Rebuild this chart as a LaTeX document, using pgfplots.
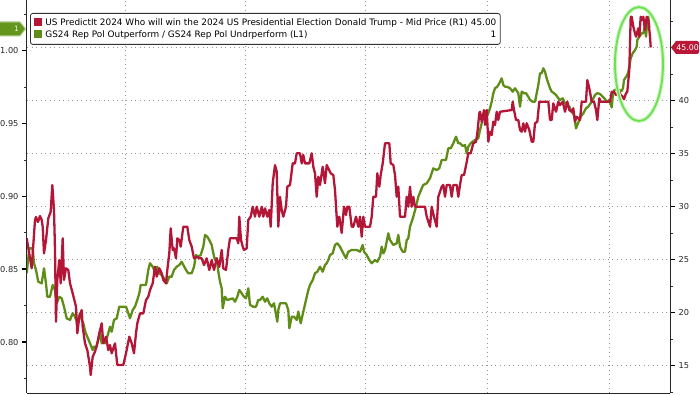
\documentclass[border=0pt]{standalone}
\usepackage{pgfplots}
\usepackage{pgfplotstable}
\pgfplotsset{compat=1.18}
\usepackage{fontspec}
\setmainfont{DejaVu Sans}

\definecolor{predred}{RGB}{180,22,56}
\definecolor{gsgreen}{RGB}{96,140,24}
\definecolor{tagred}{RGB}{185,25,55}
\definecolor{taggreen}{RGB}{100,150,30}
\definecolor{ellgreen}{RGB}{110,225,80}
\definecolor{gridgray}{RGB}{150,150,150}

\pgfplotstableread{
x v
26.7 27.00
31.7 24.17
35.0 28.73
36.0 29.01
38.0 28.54
40.0 29.10
41.7 28.73
42.7 28.09
44.0 25.58
46.0 26.84
48.3 28.89
50.7 29.51
52.3 32.03
54.0 29.67
55.0 25.90
56.0 19.13
57.3 23.07
59.3 24.95
60.7 22.75
62.7 27.00
64.0 23.07
66.0 24.17
68.3 24.01
70.0 22.75
72.7 21.81
76.0 20.55
77.3 18.04
79.3 19.60
81.7 20.23
82.7 18.66
85.0 17.09
87.3 16.46
90.0 14.89
90.7 14.10
92.7 15.83
95.0 16.30
97.3 17.09
99.3 18.04
101.7 18.98
103.3 17.09
106.0 17.72
108.3 16.46
110.0 16.93
111.7 16.15
115.0 17.09
117.3 15.05
123.3 15.05
126.0 16.15
129.3 17.72
131.7 17.09
134.0 16.15
136.0 18.04
137.3 18.98
140.0 19.92
143.3 19.92
146.0 21.18
148.3 21.49
150.0 22.12
152.7 22.75
155.0 24.32
156.7 23.38
159.3 24.17
161.7 23.70
163.3 23.07
166.0 22.75
167.3 24.01
169.3 25.58
170.7 27.94
172.7 25.90
174.0 26.06
176.0 25.11
177.3 27.00
179.3 26.84
180.7 26.21
183.3 28.09
187.3 28.09
189.3 26.84
191.7 26.21
194.0 25.11
196.7 25.26
199.3 25.11
201.7 25.11
204.0 24.48
206.7 25.11
209.3 24.01
211.7 24.95
214.0 24.01
216.7 25.11
219.3 24.32
221.7 25.90
223.3 24.17
226.0 24.01
228.3 25.90
230.0 27.00
236.7 27.00
238.3 26.53
239.3 29.04
241.0 26.84
242.7 26.21
244.0 25.90
246.7 26.06
248.3 28.73
250.7 29.04
252.7 29.98
255.0 29.04
256.7 29.98
259.3 29.04
261.7 29.98
263.3 29.04
265.0 29.83
267.3 29.04
269.3 29.67
270.7 28.09
272.7 32.19
275.0 33.91
276.7 33.28
278.3 28.09
280.0 30.92
281.7 29.67
283.3 29.04
286.0 29.98
287.3 31.87
290.0 32.03
292.7 34.07
295.0 34.07
296.7 35.02
300.0 35.02
301.7 34.07
303.3 34.86
305.0 34.07
309.3 34.07
311.7 35.02
313.3 33.75
315.0 33.13
316.7 30.92
318.3 32.81
320.0 32.03
322.7 33.75
325.0 32.19
326.7 33.91
328.3 33.60
330.7 33.13
333.3 32.97
335.0 31.56
337.3 28.09
339.3 29.04
341.7 27.50
344.0 29.98
346.0 29.20
347.3 29.98
349.3 29.98
351.7 28.09
353.3 28.09
356.0 29.04
358.3 28.09
360.0 29.04
361.7 27.15
363.3 29.04
365.0 28.09
370.0 28.09
371.7 29.04
373.3 30.92
376.0 30.92
377.3 33.13
379.3 31.87
380.7 32.97
382.7 34.07
385.0 35.96
389.3 35.96
390.7 34.07
393.3 33.91
395.0 32.97
396.7 30.92
398.3 31.87
400.0 29.04
405.0 29.04
406.7 30.92
408.3 29.98
410.0 31.87
411.7 29.98
413.3 30.92
415.0 29.98
425.0 29.98
426.7 29.04
430.0 28.09
431.7 29.98
434.0 29.04
436.7 28.09
438.3 30.92
441.7 31.87
443.3 32.03
445.0 30.92
446.7 32.03
450.0 32.03
451.7 30.92
453.3 32.03
456.7 32.03
458.3 30.92
460.0 32.03
461.7 32.97
464.0 32.97
466.3 34.00
468.3 35.02
470.7 35.02
473.3 35.96
476.0 36.11
477.3 36.90
479.3 38.79
480.0 38.94
481.7 38.00
483.3 38.79
484.0 39.10
485.0 37.69
486.7 39.10
488.3 36.11
490.0 37.06
491.7 36.74
493.3 38.00
495.0 37.69
496.7 38.94
498.3 38.16
500.0 38.94
511.7 39.10
512.7 39.89
514.0 39.10
516.0 38.16
518.3 38.16
520.0 37.22
521.7 37.06
523.3 37.85
525.0 37.06
526.7 37.85
529.3 37.22
531.7 36.11
533.3 36.11
535.0 37.85
537.3 38.00
539.3 39.89
548.3 39.89
550.0 38.16
551.7 38.16
553.3 39.73
556.0 38.94
558.3 39.89
560.0 39.57
562.7 39.89
565.0 38.94
567.3 39.89
569.3 39.10
571.7 38.94
573.3 39.26
575.0 38.00
576.7 38.47
580.0 38.16
581.7 39.89
586.0 39.89
587.3 41.93
589.3 41.15
591.7 39.89
594.0 39.89
596.0 39.10
597.3 38.16
599.3 40.21
600.7 39.89
610.0 39.89
611.7 40.83
614.0 40.83
616.0 40.52
618.3 40.99
620.7 40.52
622.7 40.36
624.0 40.11
626.0 40.68
627.3 40.83
629.3 42.88
630.7 47.90
631.7 47.90
633.3 46.96
635.0 46.34
636.0 46.02
638.3 46.81
639.3 46.02
640.7 47.90
642.7 47.59
643.3 47.90
645.0 46.65
646.7 47.90
648.3 47.59
650.0 46.02
650.7 45.00
}\redtab

\pgfplotstableread{
x v
26.7 0.8472
29.3 0.8643
32.7 0.8643
34.0 0.8541
36.0 0.8495
38.3 0.8414
41.7 0.8403
44.0 0.8506
46.0 0.8403
47.3 0.8311
50.0 0.8311
52.7 0.8392
55.0 0.8357
56.7 0.8266
59.3 0.8311
61.7 0.8300
64.0 0.8243
66.7 0.8163
70.0 0.8152
72.7 0.8198
75.0 0.8174
77.3 0.8129
80.0 0.8198
81.7 0.8152
83.3 0.8129
85.3 0.8071
87.3 0.8037
90.0 0.7992
92.7 0.7946
94.0 0.7969
96.0 0.7958
98.3 0.8014
100.0 0.8071
101.7 0.7992
103.3 0.8003
105.0 0.7992
107.3 0.8037
110.0 0.8106
111.7 0.8071
114.0 0.8152
116.7 0.8163
119.3 0.8243
126.0 0.8243
128.3 0.8198
130.0 0.8163
132.7 0.8220
135.0 0.8243
137.3 0.8289
139.3 0.8335
140.7 0.8392
146.0 0.8392
148.3 0.8495
150.0 0.8541
152.7 0.8517
155.0 0.8483
157.3 0.8517
159.3 0.8472
161.7 0.8460
164.0 0.8438
166.7 0.8403
169.3 0.8449
171.7 0.8449
174.0 0.8495
176.7 0.8517
179.3 0.8529
181.7 0.8551
183.3 0.8529
186.0 0.8495
188.3 0.8472
191.7 0.8472
194.0 0.8517
196.0 0.8597
198.3 0.8586
200.7 0.8597
203.3 0.8654
205.0 0.8735
207.3 0.8723
209.3 0.8700
211.7 0.8666
213.3 0.8609
215.0 0.8563
216.7 0.8575
218.3 0.8483
220.0 0.8414
221.7 0.8369
222.7 0.8232
225.0 0.8311
227.3 0.8289
230.0 0.8294
232.7 0.8300
235.0 0.8277
237.3 0.8311
239.3 0.8357
241.7 0.8335
244.0 0.8311
246.0 0.8300
248.3 0.8369
250.0 0.8255
253.3 0.8243
256.0 0.8243
258.3 0.8289
260.0 0.8289
262.7 0.8311
265.0 0.8277
267.3 0.8300
269.3 0.8266
271.7 0.8243
274.0 0.8266
277.3 0.8140
278.3 0.8220
280.0 0.8266
286.0 0.8266
288.3 0.8220
289.3 0.8095
291.7 0.8174
294.0 0.8174
296.7 0.8152
298.3 0.8209
300.7 0.8129
303.3 0.8209
306.0 0.8289
308.3 0.8357
310.0 0.8392
312.7 0.8426
315.0 0.8472
317.3 0.8483
320.0 0.8517
322.7 0.8483
325.0 0.8529
326.7 0.8541
328.3 0.8563
330.0 0.8597
332.7 0.8609
335.0 0.8666
337.3 0.8678
340.0 0.8654
343.3 0.8609
346.0 0.8575
348.3 0.8620
351.7 0.8632
356.7 0.8632
360.0 0.8620
362.7 0.8666
364.0 0.8620
366.7 0.8597
369.3 0.8563
371.7 0.8541
375.0 0.8563
377.3 0.8551
380.0 0.8586
381.7 0.8654
383.3 0.8609
385.0 0.8632
388.3 0.8746
390.0 0.8700
393.3 0.8666
396.7 0.8678
398.3 0.8735
400.0 0.8654
402.7 0.8620
405.0 0.8620
406.7 0.8700
408.3 0.8712
410.0 0.8792
413.3 0.8860
416.0 0.8929
418.3 0.8997
421.7 0.9055
423.3 0.9078
426.7 0.9089
430.0 0.9124
433.3 0.9192
436.7 0.9180
439.3 0.9192
441.7 0.9249
446.0 0.9249
448.3 0.9329
450.7 0.9329
453.3 0.9364
456.0 0.9409
458.3 0.9364
460.0 0.9364
462.7 0.9345
465.0 0.9352
466.7 0.9295
468.3 0.9340
470.7 0.9364
472.7 0.9375
475.0 0.9386
478.3 0.9398
480.0 0.9455
481.7 0.9501
483.3 0.9558
486.0 0.9535
488.3 0.9569
490.0 0.9604
491.7 0.9649
493.3 0.9707
495.0 0.9741
497.3 0.9752
499.3 0.9775
501.7 0.9809
503.3 0.9763
505.0 0.9752
506.7 0.9752
510.0 0.9741
512.7 0.9718
515.0 0.9741
518.3 0.9707
520.0 0.9615
521.7 0.9718
524.0 0.9707
526.0 0.9707
528.3 0.9683
530.0 0.9661
532.7 0.9649
535.0 0.9649
536.7 0.9707
538.3 0.9763
540.0 0.9844
541.7 0.9844
543.3 0.9878
545.0 0.9855
546.7 0.9809
548.3 0.9775
550.0 0.9741
551.7 0.9718
554.0 0.9707
556.0 0.9695
558.3 0.9672
560.0 0.9661
562.7 0.9672
565.0 0.9638
567.3 0.9626
569.3 0.9615
571.7 0.9580
574.0 0.9558
576.0 0.9466
577.3 0.9489
579.3 0.9523
580.7 0.9546
583.3 0.9569
586.0 0.9604
588.3 0.9615
591.7 0.9649
593.3 0.9672
595.0 0.9695
597.3 0.9707
600.0 0.9702
602.7 0.9683
605.0 0.9667
606.7 0.9647
609.3 0.9661
611.7 0.9609
612.7 0.9683
614.0 0.9726
616.7 0.9736
619.3 0.9729
621.7 0.9722
623.0 0.9743
624.0 0.9798
626.7 0.9825
628.3 0.9853
630.7 0.9947
632.7 0.9981
635.0 1.0003
636.7 1.0026
637.3 1.0072
639.3 1.0095
641.7 1.0118
643.3 1.0118
645.0 1.0175
646.0 1.0095
646.7 1.0152
647.7 1.0209
648.3 1.0232
649.3 1.0154
}\greentab

\begin{document}
\begin{tikzpicture}[x=1pt,y=1pt]
\path[use as bounding box] (0,0) rectangle (700,394);

% grid-only axis
\begin{axis}[
  at={(27pt,1pt)}, anchor=south west,
  width=643pt, height=393pt, scale only axis,
  xmin=27, xmax=670, ymin=12.406, ymax=49.481,
  xtick={125,245,365,487,609}, ytick={15,20,25,30,35,40,45},
  xticklabels={}, yticklabels={},
  major tick length=0pt, minor tick length=0pt,
  xmajorgrids, ymajorgrids,
  grid style={draw=gridgray, line width=0.8pt, dash pattern=on 0.9pt off 3.6pt},
  axis line style={draw=none},
]
\end{axis}

% green (left) axis
\begin{axis}[
  at={(27pt,1pt)}, anchor=south west,
  width=643pt, height=393pt, scale only axis,
  xmin=27, xmax=670, ymin=0.76509, ymax=1.03464,
  axis x line*=bottom, axis y line*=left,
  axis line style={black!85, line width=1pt, -},
  xtick=\empty,
  ytick={0.80,0.85,0.90,0.95,1.00},
  minor ytick={0.775,0.825,0.875,0.925,0.975,1.025},
  tick align=outside,
  major tick length=5pt, minor tick length=3pt,
  major tick style={black, line width=1.5pt},
  minor tick style={black!80, line width=0.6pt},
  yticklabel style={font=\fontsize{8.2}{10}\selectfont, text=black!85,
    /pgf/number format/.cd, fixed, fixed zerofill, precision=2, assume math mode=true},
]
\addplot[gsgreen, line width=2.3pt, line join=round] table[x=x,y=v] {\greentab};
\coordinate (gtag) at (axis cs:27,1.0148);
\end{axis}

% red (right) axis
\begin{axis}[
  at={(27pt,1pt)}, anchor=south west,
  width=643pt, height=393pt, scale only axis,
  xmin=27, xmax=670, ymin=12.406, ymax=49.481,
  axis x line=none, axis y line*=right,
  axis line style={black!85, line width=1pt, -},
  ytick={15,20,25,30,35,40,45},
  yticklabels={15,20,25,30,35,40,},
  minor ytick={12.5,17.5,22.5,27.5,32.5,37.5,42.5,47.5},
  tick align=outside,
  major tick length=5pt, minor tick length=3pt,
  major tick style={black, line width=1.5pt},
  minor tick style={black!80, line width=0.6pt},
  yticklabel style={font=\fontsize{8.2}{10}\selectfont, text=black!85,
    /pgf/number format/assume math mode=true},
]
\addplot[predred, line width=2.3pt, line join=round] table[x=x,y=v] {\redtab};
\draw[ellgreen!35, line width=4pt] (axis cs:639,43.44) ellipse [x radius=24pt, y radius=57pt];
\draw[ellgreen, line width=1.8pt] (axis cs:639,43.44) ellipse [x radius=24pt, y radius=57pt];
\coordinate (rtag) at (axis cs:670,45);
\end{axis}

% value tags
\fill[tagred] ([xshift=1pt]rtag) -- ++(5pt,6.5pt) -- ++(21pt,0) arc[start angle=90,end angle=0,radius=2pt] -- ++(0,-9pt) arc[start angle=0,end angle=-90,radius=2pt] -- ++(-21pt,0) -- cycle;
\node[text=white, font=\fontsize{7.8}{8}\selectfont, anchor=east, inner sep=0pt] at ([xshift=29pt]rtag) {45.00};

\fill[taggreen!60!white] ([xshift=-1pt]gtag) -- ++(-6pt,7.5pt) -- ++(-20pt,0) -- ++(0,-15pt) -- ++(20pt,0) -- cycle;
\fill[taggreen] ([xshift=-2.5pt]gtag) -- ++(-5pt,6.3pt) -- ++(-19.5pt,0) -- ++(0,-12.6pt) -- ++(19.5pt,0) -- cycle;
\node[text=white!90!green, font=\fontsize{7.4}{8}\selectfont, anchor=east, inner sep=0pt] at ([xshift=-8pt]gtag) {1};

% legend
\node[draw=black!80, line width=0.8pt, rounded corners=2.5pt, fill=white,
  anchor=north west, inner xsep=4pt, inner ysep=3.5pt,
  font=\fontsize{8.9}{12}\selectfont] at (30,381) {%
  \setlength{\tabcolsep}{0pt}%
  \begin{tabular}{@{}l@{\hspace{3pt}}l@{\hspace{3pt}}r@{}}
  \textcolor{predred}{\rule[-0.5pt]{8pt}{8pt}} & US PredictIt 2024 Who will win the 2024 US Presidential Election Donald Trump - Mid Price (R1) & 45.00\\
  \textcolor{gsgreen}{\rule[-0.5pt]{8pt}{8pt}} & GS24 Rep Pol Outperform / GS24 Rep Pol Undrperform (L1) & 1
  \end{tabular}};
\end{tikzpicture}
\end{document}
